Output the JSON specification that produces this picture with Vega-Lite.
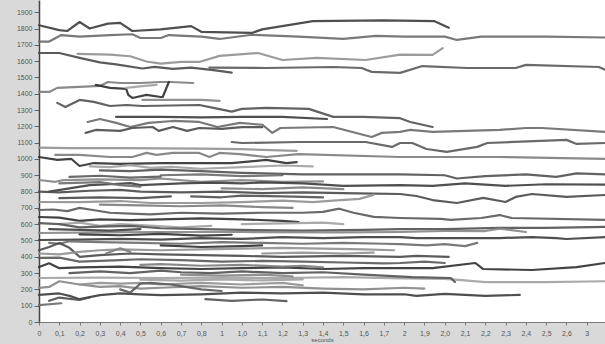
{
"$schema":"https://vega.github.io/schema/vega-lite/v6.json",
"width":566,"height":322,
"autosize":{"type":"none"},
"padding":{"left":39,"top":0,"right":0,"bottom":22},
"background":"#d9d9d9",
"view":{"fill":"white","stroke":null},
"data":{"values":[
{"r":1,"t":0,"v":1820},{"r":1,"t":0.1,"v":1790},{"r":1,"t":0.14,"v":1785},{"r":1,"t":0.2,"v":1840},{"r":1,"t":0.25,"v":1800},{"r":1,"t":0.34,"v":1830},{"r":1,"t":0.4,"v":1835},{"r":1,"t":0.46,"v":1785},{"r":1,"t":0.6,"v":1795},{"r":1,"t":0.75,"v":1815},{"r":1,"t":0.8,"v":1780},{"r":1,"t":1.05,"v":1773},{"r":1,"t":1.1,"v":1795},{"r":1,"t":1.35,"v":1845},{"r":1,"t":1.7,"v":1850},{"r":1,"t":1.95,"v":1845},{"r":1,"t":2.02,"v":1805},
{"r":2,"t":0,"v":1720},{"r":2,"t":0.05,"v":1720},{"r":2,"t":0.11,"v":1760},{"r":2,"t":0.2,"v":1750},{"r":2,"t":0.35,"v":1760},{"r":2,"t":0.46,"v":1765},{"r":2,"t":0.5,"v":1742},{"r":2,"t":0.6,"v":1742},{"r":2,"t":0.64,"v":1760},{"r":2,"t":0.8,"v":1750},{"r":2,"t":0.89,"v":1736},{"r":2,"t":1.05,"v":1762},{"r":2,"t":1.28,"v":1750},{"r":2,"t":1.5,"v":1736},{"r":2,"t":1.66,"v":1755},{"r":2,"t":1.8,"v":1750},{"r":2,"t":2.0,"v":1750},{"r":2,"t":2.06,"v":1730},{"r":2,"t":2.18,"v":1750},{"r":2,"t":2.5,"v":1750},{"r":2,"t":2.79,"v":1745},
{"r":3,"t":0,"v":1650},{"r":3,"t":0.1,"v":1650},{"r":3,"t":0.2,"v":1620},{"r":3,"t":0.3,"v":1592},{"r":3,"t":0.38,"v":1580},{"r":3,"t":0.51,"v":1555},{"r":3,"t":0.57,"v":1565},{"r":3,"t":0.66,"v":1552},{"r":3,"t":0.75,"v":1560},{"r":3,"t":0.86,"v":1545},{"r":3,"t":0.95,"v":1530},
{"r":4,"t":0.19,"v":1645},{"r":4,"t":0.35,"v":1640},{"r":4,"t":0.45,"v":1630},{"r":4,"t":0.53,"v":1598},{"r":4,"t":0.6,"v":1585},{"r":4,"t":0.7,"v":1595},{"r":4,"t":0.79,"v":1595},{"r":4,"t":0.89,"v":1632},{"r":4,"t":1.08,"v":1650},{"r":4,"t":1.2,"v":1607},{"r":4,"t":1.37,"v":1620},{"r":4,"t":1.61,"v":1607},{"r":4,"t":1.78,"v":1640},{"r":4,"t":1.94,"v":1638},{"r":4,"t":1.99,"v":1680},
{"r":5,"t":0.84,"v":1560},{"r":5,"t":1.12,"v":1558},{"r":5,"t":1.45,"v":1564},{"r":5,"t":1.59,"v":1558},{"r":5,"t":1.64,"v":1534},{"r":5,"t":1.78,"v":1528},{"r":5,"t":1.89,"v":1570},{"r":5,"t":2.11,"v":1558},{"r":5,"t":2.35,"v":1558},{"r":5,"t":2.4,"v":1577},{"r":5,"t":2.76,"v":1564},{"r":5,"t":2.79,"v":1548},
{"r":6,"t":0,"v":1411},{"r":6,"t":0.05,"v":1411},{"r":6,"t":0.09,"v":1436},{"r":6,"t":0.2,"v":1442},{"r":6,"t":0.3,"v":1448},{"r":6,"t":0.34,"v":1472},{"r":6,"t":0.4,"v":1466},{"r":6,"t":0.5,"v":1466},{"r":6,"t":0.6,"v":1472},{"r":6,"t":0.65,"v":1472},{"r":6,"t":0.76,"v":1466},
{"r":7,"t":0.28,"v":1454},{"r":7,"t":0.35,"v":1436},{"r":7,"t":0.43,"v":1430},{"r":7,"t":0.44,"v":1393},{"r":7,"t":0.46,"v":1374},{"r":7,"t":0.53,"v":1393},{"r":7,"t":0.6,"v":1380},{"r":7,"t":0.61,"v":1380},{"r":7,"t":0.64,"v":1472},
{"r":8,"t":0.43,"v":1436},{"r":8,"t":0.52,"v":1448},{"r":8,"t":0.58,"v":1454},
{"r":9,"t":0.09,"v":1344},{"r":9,"t":0.13,"v":1319},{"r":9,"t":0.2,"v":1362},{"r":9,"t":0.27,"v":1350},{"r":9,"t":0.35,"v":1325},{"r":9,"t":0.43,"v":1331},{"r":9,"t":0.51,"v":1325},{"r":9,"t":0.79,"v":1331},{"r":9,"t":0.86,"v":1313},{"r":9,"t":0.95,"v":1290},{"r":9,"t":1.0,"v":1307},{"r":9,"t":1.12,"v":1313},{"r":9,"t":1.33,"v":1307},{"r":9,"t":1.45,"v":1258},{"r":9,"t":1.6,"v":1258},{"r":9,"t":1.78,"v":1250},{"r":9,"t":1.83,"v":1227},{"r":9,"t":1.94,"v":1196},
{"r":10,"t":0.51,"v":1362},{"r":10,"t":0.7,"v":1362},{"r":10,"t":0.8,"v":1362},{"r":10,"t":0.89,"v":1356},
{"r":11,"t":0.38,"v":1258},{"r":11,"t":0.6,"v":1258},{"r":11,"t":0.8,"v":1255},{"r":11,"t":1.0,"v":1258},{"r":11,"t":1.2,"v":1258},{"r":11,"t":1.42,"v":1245},
{"r":12,"t":0.24,"v":1227},{"r":12,"t":0.3,"v":1245},{"r":12,"t":0.38,"v":1221},{"r":12,"t":0.45,"v":1196},{"r":12,"t":0.54,"v":1221},{"r":12,"t":0.66,"v":1233},{"r":12,"t":0.79,"v":1227},{"r":12,"t":0.88,"v":1196},{"r":12,"t":0.99,"v":1221},{"r":12,"t":1.1,"v":1210},{"r":12,"t":1.15,"v":1160},{"r":12,"t":1.19,"v":1190},{"r":12,"t":1.45,"v":1196},{"r":12,"t":1.64,"v":1135},{"r":12,"t":1.69,"v":1160},{"r":12,"t":1.78,"v":1166},{"r":12,"t":1.83,"v":1178},{"r":12,"t":1.94,"v":1166},{"r":12,"t":2.27,"v":1178},{"r":12,"t":2.4,"v":1190},{"r":12,"t":2.48,"v":1190},{"r":12,"t":2.79,"v":1166},
{"r":13,"t":0.23,"v":1160},{"r":13,"t":0.28,"v":1178},{"r":13,"t":0.4,"v":1172},{"r":13,"t":0.46,"v":1190},{"r":13,"t":0.56,"v":1196},{"r":13,"t":0.59,"v":1172},{"r":13,"t":0.66,"v":1196},{"r":13,"t":0.73,"v":1172},{"r":13,"t":0.79,"v":1190},{"r":13,"t":0.9,"v":1185},{"r":13,"t":1.0,"v":1195},{"r":13,"t":1.1,"v":1195},
{"r":14,"t":0,"v":1070},{"r":14,"t":0.15,"v":1066},{"r":14,"t":0.4,"v":1066},{"r":14,"t":0.79,"v":1064},{"r":14,"t":1.0,"v":1060},{"r":14,"t":1.27,"v":1050},
{"r":15,"t":0.95,"v":1104},{"r":15,"t":1.0,"v":1098},{"r":15,"t":1.28,"v":1104},{"r":15,"t":1.61,"v":1104},{"r":15,"t":1.74,"v":1074},{"r":15,"t":1.78,"v":1098},{"r":15,"t":1.84,"v":1098},{"r":15,"t":1.91,"v":1061},{"r":15,"t":2.01,"v":1043},{"r":15,"t":2.16,"v":1074},{"r":15,"t":2.21,"v":1098},{"r":15,"t":2.6,"v":1117},{"r":15,"t":2.65,"v":1092},{"r":15,"t":2.79,"v":1098},
{"r":16,"t":0.08,"v":1025},{"r":16,"t":0.2,"v":1025},{"r":16,"t":0.35,"v":1012},{"r":16,"t":0.46,"v":1012},{"r":16,"t":0.53,"v":1037},{"r":16,"t":0.58,"v":1025},{"r":16,"t":0.66,"v":1037},{"r":16,"t":0.79,"v":1037},{"r":16,"t":0.84,"v":1012},{"r":16,"t":0.89,"v":1037},{"r":16,"t":0.99,"v":1030},{"r":16,"t":1.12,"v":1012},{"r":16,"t":1.28,"v":1030},{"r":16,"t":1.78,"v":1012},{"r":16,"t":2.27,"v":1012},{"r":16,"t":2.79,"v":1000},
{"r":17,"t":0,"v":1012},{"r":17,"t":0.09,"v":994},{"r":17,"t":0.16,"v":1000},{"r":17,"t":0.2,"v":957},{"r":17,"t":0.27,"v":975},{"r":17,"t":0.4,"v":970},{"r":17,"t":0.6,"v":975},{"r":17,"t":0.79,"v":975},{"r":17,"t":0.95,"v":975},{"r":17,"t":1.12,"v":994},{"r":17,"t":1.22,"v":975},{"r":17,"t":1.27,"v":981},
{"r":18,"t":0.25,"v":955},{"r":18,"t":0.35,"v":950},{"r":18,"t":0.45,"v":962},{"r":18,"t":0.55,"v":945},{"r":18,"t":0.65,"v":952},{"r":18,"t":0.8,"v":940},{"r":18,"t":1.0,"v":950},{"r":18,"t":1.2,"v":960},{"r":18,"t":1.35,"v":955},
{"r":19,"t":0.3,"v":930},{"r":19,"t":0.45,"v":925},{"r":19,"t":0.6,"v":935},{"r":19,"t":0.8,"v":925},{"r":19,"t":1.0,"v":915},{"r":19,"t":1.3,"v":905},{"r":19,"t":1.6,"v":905},{"r":19,"t":1.78,"v":905},{"r":19,"t":2.0,"v":900},{"r":19,"t":2.06,"v":880},{"r":19,"t":2.2,"v":895},{"r":19,"t":2.4,"v":905},{"r":19,"t":2.55,"v":890},{"r":19,"t":2.65,"v":912},{"r":19,"t":2.79,"v":905},
{"r":20,"t":0,"v":871},{"r":20,"t":0.08,"v":860},{"r":20,"t":0.12,"v":870},{"r":20,"t":0.3,"v":875},{"r":20,"t":0.5,"v":870},{"r":20,"t":0.6,"v":880},{"r":20,"t":0.8,"v":860},{"r":20,"t":1.0,"v":870},{"r":20,"t":1.2,"v":860},{"r":20,"t":1.4,"v":862},
{"r":21,"t":0.05,"v":800},{"r":21,"t":0.15,"v":820},{"r":21,"t":0.25,"v":840},{"r":21,"t":0.35,"v":845},{"r":21,"t":0.45,"v":852},{"r":21,"t":0.5,"v":840},{"r":21,"t":0.7,"v":850},{"r":21,"t":0.85,"v":855},{"r":21,"t":1.0,"v":850},{"r":21,"t":1.1,"v":856},{"r":21,"t":1.3,"v":850},{"r":21,"t":1.5,"v":835},{"r":21,"t":1.78,"v":840},{"r":21,"t":1.94,"v":835},{"r":21,"t":2.1,"v":850},{"r":21,"t":2.3,"v":835},{"r":21,"t":2.5,"v":845},{"r":21,"t":2.79,"v":842},
{"r":22,"t":0.1,"v":850},{"r":22,"t":0.3,"v":858},{"r":22,"t":0.4,"v":840},{"r":22,"t":0.5,"v":830},
{"r":23,"t":0,"v":800},{"r":23,"t":0.1,"v":795},{"r":23,"t":0.25,"v":805},{"r":23,"t":0.4,"v":810},{"r":23,"t":0.5,"v":800},{"r":23,"t":0.7,"v":795},{"r":23,"t":0.9,"v":800},{"r":23,"t":1.1,"v":790},{"r":23,"t":1.3,"v":795},{"r":23,"t":1.5,"v":790},{"r":23,"t":1.65,"v":788},{"r":23,"t":1.78,"v":785},{"r":23,"t":1.86,"v":773},{"r":23,"t":1.94,"v":748},{"r":23,"t":2.06,"v":730},{"r":23,"t":2.19,"v":761},{"r":23,"t":2.3,"v":736},{"r":23,"t":2.35,"v":767},{"r":23,"t":2.43,"v":785},{"r":23,"t":2.6,"v":767},{"r":23,"t":2.79,"v":779},
{"r":24,"t":0,"v":736},{"r":24,"t":0.2,"v":735},{"r":24,"t":0.4,"v":742},{"r":24,"t":0.55,"v":730},{"r":24,"t":0.8,"v":730},{"r":24,"t":1.0,"v":735},{"r":24,"t":1.2,"v":745},{"r":24,"t":1.35,"v":735},{"r":24,"t":1.45,"v":745},{"r":24,"t":1.58,"v":755},{"r":24,"t":1.65,"v":780},
{"r":25,"t":0,"v":687},{"r":25,"t":0.07,"v":690},{"r":25,"t":0.14,"v":680},{"r":25,"t":0.2,"v":700},{"r":25,"t":0.25,"v":690},{"r":25,"t":0.35,"v":670},{"r":25,"t":0.45,"v":665},{"r":25,"t":0.55,"v":660},{"r":25,"t":0.7,"v":670},{"r":25,"t":0.9,"v":665},{"r":25,"t":1.1,"v":670},{"r":25,"t":1.3,"v":670},{"r":25,"t":1.4,"v":675},{"r":25,"t":1.48,"v":695},{"r":25,"t":1.55,"v":670},{"r":25,"t":1.65,"v":645},{"r":25,"t":1.78,"v":638},{"r":25,"t":1.98,"v":632},{"r":25,"t":2.03,"v":626},{"r":25,"t":2.18,"v":638},{"r":25,"t":2.27,"v":656},{"r":25,"t":2.33,"v":638},{"r":25,"t":2.79,"v":626},
{"r":26,"t":0.3,"v":720},{"r":26,"t":0.5,"v":715},{"r":26,"t":0.7,"v":710},{"r":26,"t":0.9,"v":715},{"r":26,"t":1.1,"v":705},{"r":26,"t":1.25,"v":700},
{"r":27,"t":0,"v":644},{"r":27,"t":0.1,"v":640},{"r":27,"t":0.2,"v":620},{"r":27,"t":0.3,"v":630},{"r":27,"t":0.45,"v":625},{"r":27,"t":0.6,"v":630},{"r":27,"t":0.8,"v":635},{"r":27,"t":1.0,"v":630},{"r":27,"t":1.2,"v":620},{"r":27,"t":1.28,"v":612},
{"r":28,"t":0.1,"v":600},{"r":28,"t":0.2,"v":610},{"r":28,"t":0.3,"v":590},{"r":28,"t":0.4,"v":600},{"r":28,"t":0.5,"v":595},{"r":28,"t":0.7,"v":580},{"r":28,"t":0.85,"v":590},
{"r":29,"t":0,"v":607},{"r":29,"t":0.1,"v":600},{"r":29,"t":0.2,"v":580},{"r":29,"t":0.3,"v":585},{"r":29,"t":0.45,"v":590},{"r":29,"t":0.6,"v":575},{"r":29,"t":0.8,"v":570},{"r":29,"t":1.0,"v":565},{"r":29,"t":1.3,"v":560},{"r":29,"t":1.6,"v":565},{"r":29,"t":1.78,"v":570},{"r":29,"t":2.0,"v":570},{"r":29,"t":2.27,"v":577},{"r":29,"t":2.5,"v":577},{"r":29,"t":2.79,"v":583},
{"r":30,"t":0,"v":546},{"r":30,"t":0.3,"v":550},{"r":30,"t":0.6,"v":552},{"r":30,"t":1.0,"v":552},{"r":30,"t":1.5,"v":550},{"r":30,"t":1.78,"v":552},{"r":30,"t":2.0,"v":558},{"r":30,"t":2.2,"v":558},{"r":30,"t":2.27,"v":572},{"r":30,"t":2.33,"v":564},{"r":30,"t":2.4,"v":552},
{"r":31,"t":0,"v":503},{"r":31,"t":0.2,"v":505},{"r":31,"t":0.4,"v":510},{"r":31,"t":0.6,"v":505},{"r":31,"t":0.8,"v":515},{"r":31,"t":1.0,"v":510},{"r":31,"t":1.2,"v":520},{"r":31,"t":1.4,"v":515},{"r":31,"t":1.6,"v":520},{"r":31,"t":1.78,"v":521},{"r":31,"t":1.86,"v":515},{"r":31,"t":2.0,"v":515},{"r":31,"t":2.27,"v":515},{"r":31,"t":2.43,"v":521},{"r":31,"t":2.55,"v":515},{"r":31,"t":2.6,"v":509},{"r":31,"t":2.79,"v":521},
{"r":32,"t":0.05,"v":485},{"r":32,"t":0.1,"v":480},{"r":32,"t":0.15,"v":495},{"r":32,"t":0.3,"v":490},{"r":32,"t":0.5,"v":485},{"r":32,"t":0.7,"v":480},{"r":32,"t":0.9,"v":490},{"r":32,"t":1.1,"v":485},{"r":32,"t":1.3,"v":480},{"r":32,"t":1.5,"v":485},{"r":32,"t":1.7,"v":480},{"r":32,"t":1.78,"v":478},{"r":32,"t":1.91,"v":470},{"r":32,"t":2.0,"v":478},{"r":32,"t":2.1,"v":465},{"r":32,"t":2.16,"v":485},
{"r":33,"t":0,"v":440},{"r":33,"t":0.05,"v":460},{"r":33,"t":0.1,"v":485},{"r":33,"t":0.15,"v":455},{"r":33,"t":0.2,"v":400},{"r":33,"t":0.3,"v":410},{"r":33,"t":0.45,"v":420},{"r":33,"t":0.6,"v":415},{"r":33,"t":0.8,"v":410},{"r":33,"t":1.0,"v":405},{"r":33,"t":1.2,"v":400},{"r":33,"t":1.5,"v":405},{"r":33,"t":1.78,"v":400},{"r":33,"t":1.86,"v":405},{"r":33,"t":2.02,"v":400},
{"r":34,"t":0,"v":420},{"r":34,"t":0.1,"v":415},{"r":34,"t":0.2,"v":430},{"r":34,"t":0.3,"v":440},{"r":34,"t":0.4,"v":445},{"r":34,"t":0.6,"v":440},{"r":34,"t":0.8,"v":445},{"r":34,"t":1.0,"v":450},{"r":34,"t":1.2,"v":455},{"r":34,"t":1.4,"v":450},{"r":34,"t":1.6,"v":445},{"r":34,"t":1.75,"v":440},
{"r":35,"t":0,"v":393},{"r":35,"t":0.1,"v":395},{"r":35,"t":0.2,"v":370},{"r":35,"t":0.3,"v":375},{"r":35,"t":0.4,"v":380},{"r":35,"t":0.5,"v":385},{"r":35,"t":0.7,"v":380},{"r":35,"t":0.9,"v":370},{"r":35,"t":1.1,"v":375},{"r":35,"t":1.3,"v":370},{"r":35,"t":1.5,"v":365},{"r":35,"t":1.7,"v":360},{"r":35,"t":1.78,"v":362},{"r":35,"t":1.9,"v":370},{"r":35,"t":2.0,"v":362},
{"r":36,"t":0.33,"v":420},{"r":36,"t":0.4,"v":452},{"r":36,"t":0.45,"v":430},
{"r":37,"t":0,"v":337},{"r":37,"t":0.05,"v":360},{"r":37,"t":0.1,"v":330},{"r":37,"t":0.2,"v":335},{"r":37,"t":0.4,"v":340},{"r":37,"t":0.6,"v":330},{"r":37,"t":0.8,"v":325},{"r":37,"t":1.0,"v":330},{"r":37,"t":1.2,"v":335},{"r":37,"t":1.4,"v":325},{"r":37,"t":1.6,"v":330},{"r":37,"t":1.78,"v":331},{"r":37,"t":1.94,"v":331},{"r":37,"t":2.15,"v":362},{"r":37,"t":2.19,"v":325},{"r":37,"t":2.43,"v":319},{"r":37,"t":2.65,"v":337},{"r":37,"t":2.79,"v":362},
{"r":38,"t":0,"v":270},{"r":38,"t":0.3,"v":272},{"r":38,"t":0.6,"v":270},{"r":38,"t":0.9,"v":272},{"r":38,"t":1.2,"v":270},{"r":38,"t":1.5,"v":275},{"r":38,"t":1.8,"v":268},{"r":38,"t":2.0,"v":265},{"r":38,"t":2.1,"v":255},{"r":38,"t":2.2,"v":245},{"r":38,"t":2.5,"v":245},{"r":38,"t":2.79,"v":250},
{"r":39,"t":0.15,"v":300},{"r":39,"t":0.3,"v":310},{"r":39,"t":0.45,"v":300},{"r":39,"t":0.6,"v":315},{"r":39,"t":0.7,"v":305},{"r":39,"t":0.85,"v":300},{"r":39,"t":1.0,"v":310},{"r":39,"t":1.2,"v":300},{"r":39,"t":1.4,"v":305},{"r":39,"t":1.6,"v":290},{"r":39,"t":1.84,"v":275},{"r":39,"t":2.03,"v":270},{"r":39,"t":2.05,"v":245},
{"r":40,"t":0,"v":209},{"r":40,"t":0.05,"v":215},{"r":40,"t":0.1,"v":250},{"r":40,"t":0.2,"v":230},{"r":40,"t":0.3,"v":215},{"r":40,"t":0.4,"v":220},{"r":40,"t":0.5,"v":205},{"r":40,"t":0.6,"v":210},{"r":40,"t":0.8,"v":220},{"r":40,"t":1.0,"v":210},{"r":40,"t":1.2,"v":215},{"r":40,"t":1.4,"v":205},{"r":40,"t":1.6,"v":200},{"r":40,"t":1.8,"v":210},{"r":40,"t":1.9,"v":205},
{"r":41,"t":0,"v":166},{"r":41,"t":0.1,"v":175},{"r":41,"t":0.15,"v":160},{"r":41,"t":0.2,"v":140},{"r":41,"t":0.3,"v":165},{"r":41,"t":0.4,"v":175},{"r":41,"t":0.5,"v":170},{"r":41,"t":0.6,"v":165},{"r":41,"t":0.8,"v":170},{"r":41,"t":1.0,"v":180},{"r":41,"t":1.2,"v":175},{"r":41,"t":1.4,"v":180},{"r":41,"t":1.6,"v":170},{"r":41,"t":1.8,"v":170},{"r":41,"t":1.86,"v":160},{"r":41,"t":2.0,"v":172},{"r":41,"t":2.2,"v":160},{"r":41,"t":2.37,"v":166},
{"r":42,"t":0,"v":104},{"r":42,"t":0.11,"v":115},
{"r":43,"t":0.05,"v":130},{"r":43,"t":0.1,"v":150},{"r":43,"t":0.2,"v":135},{"r":43,"t":0.25,"v":150},
{"r":44,"t":0.2,"v":230},{"r":44,"t":0.3,"v":240},{"r":44,"t":0.4,"v":235},{"r":44,"t":0.5,"v":240},{"r":44,"t":0.6,"v":230},{"r":44,"t":0.8,"v":240},{"r":44,"t":1.0,"v":230},{"r":44,"t":1.2,"v":240},{"r":44,"t":1.3,"v":225},
{"r":45,"t":0.4,"v":200},{"r":45,"t":0.45,"v":180},{"r":45,"t":0.5,"v":235},{"r":45,"t":0.55,"v":240},{"r":45,"t":0.65,"v":230},{"r":45,"t":0.7,"v":220},{"r":45,"t":0.8,"v":200},{"r":45,"t":0.9,"v":190},
{"r":46,"t":0.5,"v":350},{"r":46,"t":0.6,"v":355},{"r":46,"t":0.8,"v":345},{"r":46,"t":1.0,"v":350},{"r":46,"t":1.2,"v":340},{"r":46,"t":1.3,"v":345},{"r":46,"t":1.4,"v":335},
{"r":47,"t":0.6,"v":470},{"r":47,"t":0.8,"v":460},{"r":47,"t":1.0,"v":465},{"r":47,"t":1.1,"v":470},
{"r":48,"t":1.0,"v":600},{"r":48,"t":1.2,"v":605},{"r":48,"t":1.4,"v":610},{"r":48,"t":1.5,"v":600},
{"r":49,"t":0.75,"v":770},{"r":49,"t":0.9,"v":765},{"r":49,"t":1.0,"v":775},{"r":49,"t":1.2,"v":770},{"r":49,"t":1.4,"v":765},
{"r":50,"t":0.7,"v":290},{"r":50,"t":0.9,"v":285},{"r":50,"t":1.1,"v":290},{"r":50,"t":1.25,"v":280},
{"r":51,"t":0.05,"v":570},{"r":51,"t":0.2,"v":565},{"r":51,"t":0.35,"v":560},{"r":51,"t":0.5,"v":570},
{"r":52,"t":0.6,"v":900},{"r":52,"t":0.8,"v":905},{"r":52,"t":1.0,"v":895},{"r":52,"t":1.2,"v":900},
{"r":53,"t":0.1,"v":760},{"r":53,"t":0.3,"v":765},{"r":53,"t":0.5,"v":760},{"r":53,"t":0.65,"v":770},
{"r":54,"t":1.1,"v":420},{"r":54,"t":1.3,"v":425},{"r":54,"t":1.5,"v":420},{"r":54,"t":1.65,"v":425},
{"r":55,"t":0.15,"v":890},{"r":55,"t":0.3,"v":897},{"r":55,"t":0.45,"v":885},{"r":55,"t":0.6,"v":892},
{"r":56,"t":0.9,"v":820},{"r":56,"t":1.1,"v":815},{"r":56,"t":1.3,"v":826},{"r":56,"t":1.5,"v":815},
{"r":57,"t":0.2,"v":538},{"r":57,"t":0.4,"v":532},{"r":57,"t":0.6,"v":540},{"r":57,"t":0.8,"v":530},{"r":57,"t":0.95,"v":535},
{"r":58,"t":0.5,"v":260},{"r":58,"t":0.7,"v":254},{"r":58,"t":0.9,"v":261},{"r":58,"t":1.1,"v":255},{"r":58,"t":1.3,"v":262},
{"r":59,"t":0.82,"v":140},{"r":59,"t":0.95,"v":130},{"r":59,"t":1.1,"v":138},{"r":59,"t":1.22,"v":128}
]},
"mark":{"type":"line","strokeWidth":2.2,"strokeCap":"round","strokeJoin":"round","opacity":0.92},
"encoding":{
"x":{"field":"t","type":"quantitative","scale":{"domain":[0,2.79],"nice":false,"zero":false},
"axis":{"title":"seconds","values":[0,0.1,0.2,0.3,0.4,0.5,0.6,0.7,0.8,0.9,1,1.1,1.2,1.3,1.4,1.5,1.6,1.7,1.8,1.9,2,2.1,2.2,2.3,2.4,2.5,2.6,2.7],
"labelExpr":"['0','0,1','0,2','0,3','0,4','0,5','0,6','0,7','0,8','1','1,0','1,1','1,2','1,3','1,4','1,5','1,6','1,7','2','1,9','2,0','2,1','2,2','2,3','2,4','2,5','2,6','3'][round(datum.value*10)]",
"grid":false,"domainColor":"#7a7a7a","tickColor":"#7a7a7a","tickSize":3,"labelFontSize":7,"labelColor":"#555555","labelPadding":4,"labelFont":"Liberation Sans","titleFont":"Liberation Sans","titleFontSize":6,"titleFontWeight":"normal","titleColor":"#555555","titlePadding":0,"labelOverlap":false,"labelFlush":false}},
"y":{"field":"v","type":"quantitative","scale":{"domain":[0,1975],"nice":false},
"axis":{"title":null,"format":"d","values":[0,100,200,300,400,500,600,700,800,900,1000,1100,1200,1300,1400,1500,1600,1700,1800,1900],"grid":false,"domainColor":"#444444","domainWidth":1.5,"tickColor":"#666666","tickSize":5,"labelFontSize":7,"labelColor":"#555555","labelPadding":2,"labelFont":"Liberation Sans","labelOverlap":false}},
"color":{"field":"r","type":"nominal","legend":null,"scale":{"range":["#404040","#6e6e6e","#4d4d4d","#939393","#5c5c5c","#7f7f7f","#333333","#a3a3a3","#555555","#888888"]}},
"detail":{"field":"r"}
}
}
